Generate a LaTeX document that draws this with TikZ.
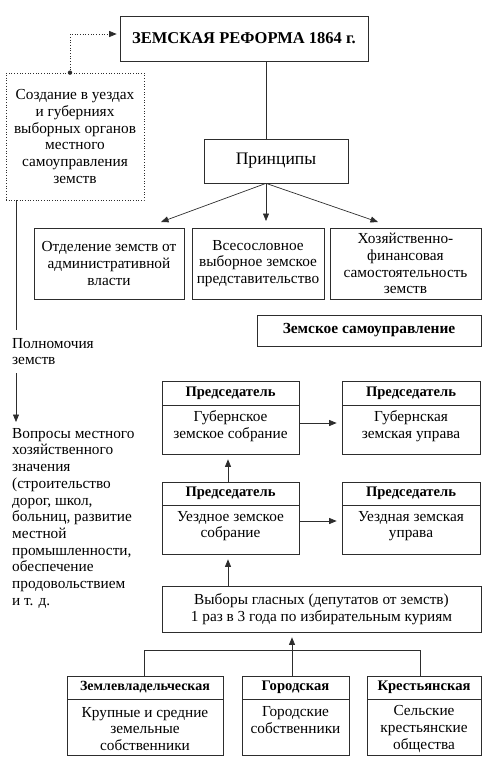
\documentclass[tikz,border=0pt]{standalone}
\usepackage{fontspec}
\setmainfont{Liberation Serif}
\usetikzlibrary{arrows.meta}
\definecolor{lc}{RGB}{45,45,45}
\newcommand\fs{\fontsize{15.3}{16.7}\selectfont}
\newcommand\bfs{\fontsize{14.6}{16.7}\selectfont\bfseries}
\begin{document}
\begin{tikzpicture}[x=1pt,y=-1pt,
  box/.style={draw=lc, line width=0.7pt, inner sep=0pt, align=center, font=\fs},
  dbox/.style={draw=lc, line width=0.7pt, dotted, inner sep=0pt, align=center, font=\fs},
  txt/.style={inner sep=0pt, align=center, font=\fs},
  ln/.style={draw=lc, line width=0.7pt},
  arr/.style={draw=lc, line width=0.7pt, -{Triangle[length=7.5pt,width=6pt]}},
  darr/.style={draw=lc, line width=0.7pt, dotted, -{Triangle[length=7.5pt,width=6pt]}}]
\useasboundingbox (0,0) rectangle (499,782);
% top
\node[box, minimum width=248pt, minimum height=45pt, font=\fontsize{16.5}{18}\selectfont\bfseries] (title) at (244,38.5) {ЗЕМСКАЯ РЕФОРМА 1864 г.};
\node[dbox, minimum width=138pt, minimum height=127pt] (dot) at (75,136.5) {Создание в уездах\\и губерниях\\выборных органов\\местного\\самоуправления\\земств};
\node[box, minimum width=144pt, minimum height=44pt, font=\fontsize{17.6}{19}\selectfont] (princ) at (276,161) {Принципы};
\node[box, minimum width=150pt, minimum height=71pt] (b1) at (109,263.5) {Отделение земств от\\административной\\власти};
\node[box, minimum width=132pt, minimum height=71pt] (b2) at (258,263.5) {Всесословное\\выборное земское\\представительство};
\node[box, minimum width=151pt, minimum height=71pt] (b3) at (405.5,263.5) {Хозяйственно-\\финансовая\\самостоятельность\\земств};
\node[box, minimum width=224pt, minimum height=31pt, font=\fontsize{15.4}{17}\selectfont\bfseries] (zs) at (369,330.5) {Земское самоуправление};
% left column
\node[txt, align=left, anchor=north west, inner xsep=0pt, inner ysep=8pt] (pol) at (12,330) {Полномочия\\земств};
\node[txt, align=left, anchor=north west] (vopr) at (12,428) {Вопросы местного\\хозяйственного\\значения\\(строительство\\дорог, школ,\\больниц, развитие\\местной\\промышленности,\\обеспечение\\продовольствием\\и т. д.};
% zemstvo boxes
\node[box, minimum width=137pt, minimum height=24pt, font=\bfs] (gsh) at (230.5,393) {Председатель};
\node[box, minimum width=137pt, minimum height=49pt] (gsb) at (230.5,429.5) {};
\node[txt] (gst) at (230.5,426) {Губернское\\земское собрание};
\node[box, minimum width=138pt, minimum height=24pt, font=\bfs] (guh) at (411,393) {Председатель};
\node[box, minimum width=138pt, minimum height=49pt] (gub) at (411,429.5) {};
\node[txt] (gut) at (411,426) {Губернская\\земская управа};
\node[box, minimum width=137pt, minimum height=23pt, font=\bfs] (ush) at (230.5,493.5) {Председатель};
\node[box, minimum width=137pt, minimum height=49pt] (usb) at (230.5,529.5) {};
\node[txt] (ust) at (230.5,526) {Уездное земское\\собрание};
\node[box, minimum width=138pt, minimum height=23pt, font=\bfs] (uuh) at (411,493.5) {Председатель};
\node[box, minimum width=138pt, minimum height=49pt] (uub) at (411,529.5) {};
\node[txt] (uut) at (411,526) {Уездная земская\\управа};
\node[box, minimum width=319pt, minimum height=46pt] (vy) at (321.5,609) {Выборы гласных (депутатов от земств)\\1 раз в 3 года по избирательным куриям};
% curiae
\node[box, minimum width=156pt, minimum height=23pt, font=\fontsize{14}{16}\selectfont\bfseries] (k1h) at (145,687.5) {Землевладельческая};
\node[box, minimum width=156pt, minimum height=56pt] (k1b) at (145,727) {};
\node[txt] (k1t) at (145,729) {Крупные и средние\\земельные\\собственники};
\node[box, minimum width=107pt, minimum height=23pt, font=\bfs] (k2h) at (295.5,687.5) {Городская};
\node[box, minimum width=107pt, minimum height=56pt] (k2b) at (295.5,727) {};
\node[txt] (k2t) at (295.5,720) {Городские\\собственники};
\node[box, minimum width=114pt, minimum height=23pt, font=\bfs] (k3h) at (424,687.5) {Крестьянская};
\node[box, minimum width=114pt, minimum height=56pt] (k3b) at (424,727) {};
\node[txt] (k3t) at (424,729) {Сельские\\крестьянские\\общества};
% connectors
\coordinate (tp) at (266,0);
\coordinate (e1) at (161,222);
\coordinate (e2) at (266,221);
\coordinate (e3) at (378,222);
\coordinate (lx) at (16,0);
\draw[ln] (title.south -| tp) -- (princ.north -| tp);
\draw[arr] (princ.south -| tp) -- (e1);
\draw[arr] (princ.south -| tp) -- (e2);
\draw[arr] (princ.south -| tp) -- (e3);
\fill[lc] (dot.north -| 70,0) circle (2.2pt);
\draw[darr, shorten >=3pt] (dot.north -| 70,0) |- ([yshift=4.5pt]title.west);
\draw[ln] (dot.south -| lx) -- (pol.north -| lx);
\draw[arr, shorten >=6pt] (pol.south -| lx) -- (vopr.north -| lx);
\draw[arr, shorten >=5pt] ([yshift=6.5pt]gsb.east) -- ([yshift=6.5pt]gub.west);
\draw[arr, shorten >=5pt] ([yshift=8.5pt]usb.east) -- ([yshift=8.5pt]uub.west);
\draw[arr, shorten >=5pt] (ush.north -| 228,0) -- (gsb.south -| 228,0);
\draw[arr, shorten >=5pt] (vy.north -| 228,0) -- (usb.south -| 228,0);
\draw[arr, shorten >=5pt] (k2h.north -| 292,0) -- (vy.south -| 292,0);
\draw[ln] (k1h.north -| 144,0) -- ++(0,-25) -| (k3h.north -| 420,0);
\end{tikzpicture}
\end{document}
